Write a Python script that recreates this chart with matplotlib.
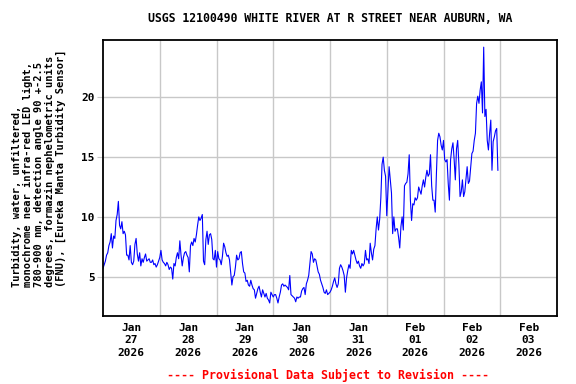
## turbidity time series, USGS 12100490 White River at R Street near Auburn, WA
import numpy as np
import pandas as pd
import matplotlib
matplotlib.use("Agg")
from matplotlib import pyplot as plt
import matplotlib.dates as mdates

plt.rcParams['font.family'] = ['DejaVu Sans Mono']
plt.rcParams['font.weight'] = 'bold'

## values, every 30 minutes from 2026-01-27 00:00
jan27 = [5.7, 6.0, 6.3, 6.8, 7.0, 7.6, 7.9, 8.6, 7.4, 8.4,
         8.2, 9.7, 10.2, 11.3, 9.3, 9.0, 9.6, 8.6, 8.8, 8.5,
         6.8, 6.8, 6.4, 7.6, 6.2, 6.0, 6.3, 7.7, 8.2, 6.9,
         6.3, 7.0, 5.9, 6.5, 6.2, 6.6, 6.9, 6.3, 6.4, 6.5,
         6.2, 6.2, 6.4, 6.0, 6.1, 5.8, 6.0, 6.3]
jan28 = [6.6, 7.2, 6.4, 6.2, 6.1, 5.9, 6.2, 6.0, 5.6, 5.8,
         5.7, 4.8, 6.1, 5.9, 6.6, 7.0, 6.5, 8.0, 6.8, 5.9,
         6.6, 7.0, 7.1, 6.8, 6.6, 5.4, 7.6, 7.9, 7.6, 8.2,
         7.9, 8.5, 9.3, 10.0, 9.7, 9.9, 10.2, 6.3, 6.0, 8.1,
         8.8, 7.7, 8.5, 8.6, 8.1, 6.5, 6.4, 7.2]
jan29 = [5.8, 7.1, 6.5, 6.4, 6.0, 6.7, 7.8, 7.5, 7.0, 6.7,
         6.8, 6.4, 5.3, 4.3, 5.0, 5.1, 5.8, 6.8, 6.4, 6.5,
         7.0, 7.1, 6.1, 5.4, 5.3, 4.6, 4.7, 4.3, 4.2, 4.7,
         4.3, 4.0, 3.9, 3.2, 3.6, 4.0, 4.2, 3.7, 3.3, 3.9,
         3.6, 3.3, 3.6, 3.2, 3.05, 2.8, 3.7, 3.5]
jan30 = [3.3, 3.5, 3.5, 3.2, 2.8, 3.3, 3.7, 4.3, 4.4, 4.2,
         4.3, 4.2, 4.1, 3.9, 5.1, 3.5, 3.4, 3.3, 3.2, 2.9,
         3.3, 3.2, 3.3, 3.3, 3.8, 4.0, 4.1, 3.5, 4.4, 4.7,
         5.1, 6.1, 7.1, 6.9, 6.2, 6.5, 6.4, 5.9, 5.4, 5.2,
         4.7, 4.4, 4.1, 3.7, 3.6, 3.9, 3.5, 3.6]
jan31 = [3.7, 3.9, 4.2, 4.6, 4.9, 4.4, 4.1, 4.4, 5.7, 6.0,
         5.8, 5.5, 5.1, 3.7, 4.9, 5.5, 6.0, 5.7, 7.2, 6.9,
         7.2, 6.8, 6.4, 6.1, 6.3, 5.9, 5.7, 6.1, 5.9, 6.1,
         7.2, 6.4, 6.5, 6.1, 7.8, 7.0, 6.4, 7.3, 7.6, 9.0,
         10.0, 8.9, 9.8, 11.6, 14.4, 15.0, 13.9, 13.4]
feb01 = [10.1, 12.2, 14.2, 13.1, 12.0, 8.6, 10.0, 8.8, 9.0, 9.0,
         8.3, 7.4, 9.2, 10.0, 8.9, 12.6, 12.8, 12.9, 13.6, 15.2,
         11.4, 9.7, 11.1, 11.0, 11.6, 11.4, 11.6, 12.5, 12.2, 11.9,
         12.6, 13.1, 12.5, 13.3, 13.9, 13.4, 13.6, 15.2, 12.6, 11.4,
         11.4, 10.4, 13.6, 16.4, 17.0, 16.7, 16.0, 15.6]
feb02 = [16.4, 14.8, 14.6, 14.8, 12.8, 11.4, 14.8, 15.7, 16.2, 14.8,
         13.1, 15.7, 16.4, 14.4, 11.7, 12.1, 13.1, 11.7, 12.1, 13.2,
         14.2, 12.8, 13.0, 14.2, 15.3, 15.5, 16.4, 17.0, 19.5, 20.1,
         19.5, 20.6, 21.3, 18.7, 24.2, 18.4, 19.0, 16.4, 15.6, 17.0,
         18.1, 13.9, 16.3, 16.7, 17.2, 17.4, 13.9]

fnu = jan27 + jan28 + jan29 + jan30 + jan31 + feb01 + feb02
times = pd.date_range("2026-01-27 00:00", periods=len(fnu), freq="30min")

day_labels = ["Jan\n27\n2026", "Jan\n28\n2026", "Jan\n29\n2026", "Jan\n30\n2026",
              "Jan\n31\n2026", "Feb\n01\n2026", "Feb\n02\n2026", "Feb\n03\n2026"]
yticks = [5, 10, 15, 20]

title = "USGS 12100490 WHITE RIVER AT R STREET NEAR AUBURN, WA"
ylab = ("Turbidity, water, unfiltered,\n"
        "monochrome near infra-red LED light,\n"
        "780-900 nm, detection angle 90 +-2.5\n"
        "degrees, formazin nephelometric units\n"
        "(FNU), [Eureka Manta Turbidity Sensor]")

fig = plt.figure(figsize=(5.76, 3.84), dpi=100)
ax = fig.add_axes([103/576, 1-316/384, 454/576, 276/384])

ax.plot(times, fnu, color="#0000ff", lw=0.8)

t0 = pd.Timestamp("2026-01-27 00:00")
ax.set_xlim(t0, t0 + pd.Timedelta(days=8))
ax.set_ylim(1.71, 24.8)

## midnight grid lines, noon labels
ax.set_xticks(pd.date_range("2026-01-28", periods=7, freq="D"))
ax.set_xticklabels([])
ax.set_xticks(pd.date_range("2026-01-27 12:00", periods=8, freq="D"), minor=True)
ax.set_xticklabels(day_labels, minor=True, fontsize=8, linespacing=1.3)
ax.tick_params(axis="x", which="both", length=0, pad=5)

ax.set_yticks(yticks)
ax.set_yticklabels([str(v) for v in yticks], fontsize=8)
ax.tick_params(axis="y", length=4, color="#c8c8c8", pad=2)

ax.grid(True, which="major", color="#c8c8c8", lw=1)
ax.set_axisbelow(True)
for s in ax.spines.values():
    s.set_linewidth(1.3)

fig.text(330/576, 1-19/384, title, ha="center", va="center", fontsize=8.3)
fig.text(39/576, 1-287/384, ylab, rotation=90, ha="center", va="bottom",
         fontsize=7.5, linespacing=1.1, multialignment="left")
fig.text(328/576, 1-375/384, "---- Provisional Data Subject to Revision ----",
         ha="center", va="center", fontsize=8.4, color="#ff0000")

fig.savefig("out.png", dpi=100)
